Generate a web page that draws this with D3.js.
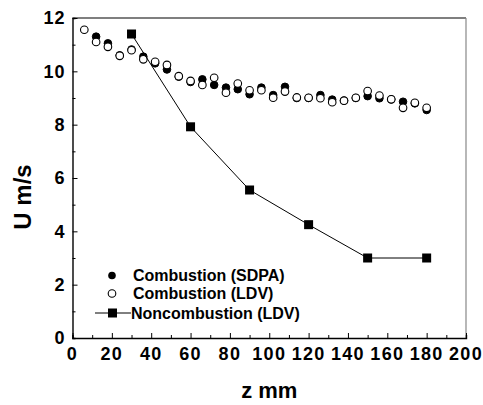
<!DOCTYPE html>
<html><head><meta charset="utf-8">
<script src="https://cdn.jsdelivr.net/npm/d3@7"></script>
<style>body{margin:0;background:#fff}svg{display:block}text{font-family:"Liberation Sans",Arial,sans-serif;font-weight:bold;fill:#000}</style>
</head><body>
<script>
const zSDPA = [12,18,24,30,36,42,48,54,60,66,72,78,84,90,96,102,108,114,120,126,132,138,144,150,156,162,168,174,180];
const uSDPA = [11.3,11.05,10.6,10.82,10.55,10.3,10.07,9.8,9.6,9.7,9.49,9.39,9.33,9.14,9.39,9.11,9.42,9.0,9.0,9.11,8.94,8.9,9.0,9.07,8.99,8.95,8.86,8.8,8.55];
const zLDV = [6,12,18,24,30,36,42,48,54,60,66,72,78,84,90,96,102,108,114,120,126,132,138,144,150,156,162,168,174,180];
const uLDV = [11.56,11.1,10.92,10.58,10.79,10.45,10.36,10.24,9.82,9.64,9.49,9.76,9.2,9.54,9.29,9.29,9.01,9.24,9.02,9.01,8.99,8.84,8.9,9.01,9.26,9.09,8.95,8.63,8.82,8.63];
const zNon = [30,60,90,120,150,180];
const uNon = [11.4,7.92,5.55,4.25,3.0,3.0];
const xTicks = [0,20,40,60,80,100,120,140,160,180,200];
const yTicks = [0,2,4,6,8,10,12];
const legendLabels = ["Combustion (SDPA)","Combustion (LDV)","Noncombustion (LDV)"];

const W=483,H=405;
const L=72.5,R=466,T=18,B=338;
const svg=d3.select("body").append("svg").attr("width",W).attr("height",H);
const x=d3.scaleLinear().domain([0,200]).range([L,R]);
const y=d3.scaleLinear().domain([0,12]).range([B,T]);

// frame
svg.append("line").attr("x1",L).attr("x2",R).attr("y1",T).attr("y2",T).attr("stroke","#000").attr("stroke-width",1.2);
svg.append("line").attr("x1",R).attr("x2",R).attr("y1",T).attr("y2",B).attr("stroke","#888").attr("stroke-width",1.2);

// x axis
const xa=svg.append("g").attr("transform",`translate(0,${B})`);
xa.call(d3.axisBottom(x).tickValues(d3.range(0,201,10)).tickSize(-3).tickFormat(""));
xa.selectAll(".tick line").filter(d=>d%20===0).attr("y2",-5);
xa.select(".domain").attr("stroke-width",1.4);
xa.selectAll(".tick line").attr("stroke-width",1);
xa.selectAll(".tl").data(xTicks).enter().append("text").attr("class","tl")
  .attr("x",d=>x(d)).attr("y",22).attr("text-anchor","middle").style("font-size","18px").style("letter-spacing","1.3px").text(d=>d);

// y axis
const ya=svg.append("g").attr("transform",`translate(${L},0)`);
ya.call(d3.axisLeft(y).tickValues(d3.range(0,12.01,1)).tickSize(-3).tickFormat(""));
ya.selectAll(".tick line").filter(d=>d%2===0).attr("x2",5);
ya.select(".domain").attr("stroke-width",1.4);
ya.selectAll(".tl").data(yTicks).enter().append("text").attr("class","tl")
  .attr("x",-7).attr("y",d=>y(d)).attr("dy","0.36em").attr("text-anchor","end").style("font-size","18px").style("letter-spacing","1px").text(d=>d);

// axis titles
svg.append("text").attr("x",(L+R)/2).attr("y",398).attr("text-anchor","middle").style("font-size","22px").text("z mm");
svg.append("text").attr("transform","translate(31,197) rotate(-90)").attr("text-anchor","middle").style("font-size","24px").text("U m/s");

const r=3.8;
// SDPA filled
svg.selectAll(".sd").data(zSDPA).enter().append("circle")
  .attr("cx",d=>x(d)).attr("cy",(d,i)=>y(uSDPA[i])).attr("r",r).attr("fill","#000").attr("stroke","#000").attr("stroke-width",1);
// LDV open
svg.selectAll(".ld").data(zLDV).enter().append("circle")
  .attr("cx",d=>x(d)).attr("cy",(d,i)=>y(uLDV[i])).attr("r",r).attr("fill","#fff").attr("stroke","#000").attr("stroke-width",1.1);
// Noncombustion
const line=d3.line().x(d=>x(d[0])).y(d=>y(d[1]));
svg.append("path").datum(zNon.map((z,i)=>[z,uNon[i]])).attr("d",line).attr("fill","none").attr("stroke","#000").attr("stroke-width",1);
svg.selectAll(".nc").data(zNon).enter().append("rect")
  .attr("x",d=>x(d)-4.5).attr("y",(d,i)=>y(uNon[i])-4.5).attr("width",9).attr("height",9).attr("fill","#000");

// legend
const lg=svg.append("g");
const ly=[275.5,293.5,313];
lg.append("circle").attr("cx",112).attr("cy",ly[0]).attr("r",r).attr("fill","#000");
lg.append("circle").attr("cx",112).attr("cy",ly[1]).attr("r",r).attr("fill","#fff").attr("stroke","#000").attr("stroke-width",1.1);
lg.append("line").attr("x1",95).attr("x2",131).attr("y1",ly[2]).attr("y2",ly[2]).attr("stroke","#000").attr("stroke-width",1);
lg.append("rect").attr("x",108).attr("y",ly[2]-4.5).attr("width",9).attr("height",9).attr("fill","#000");
lg.selectAll(".lt").data(legendLabels).enter().append("text").attr("x",(d,i)=>i===2?131:133).attr("y",(d,i)=>ly[i]).attr("dy","0.36em").style("font-size","16px").text(d=>d);
</script>
</body></html>
